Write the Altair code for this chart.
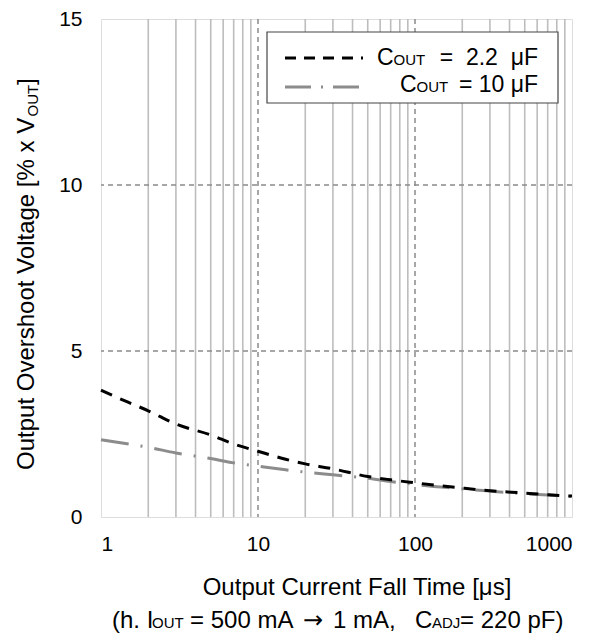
import altair as alt
import pandas as pd

# ---- data ----
fall_time = [1, 1.5, 2, 3, 5, 7, 10, 15, 20, 30, 50, 70, 100, 200, 300, 500, 700, 1000]
over_22uF = [3.82, 3.45, 3.20, 2.80, 2.47, 2.20, 1.98, 1.74, 1.60, 1.45, 1.22, 1.12, 1.03, 0.87, 0.79, 0.72, 0.67, 0.63]
over_10uF = [2.33, 2.20, 2.10, 1.93, 1.76, 1.63, 1.53, 1.42, 1.35, 1.27, 1.17, 1.07, 0.98, 0.85, 0.78, 0.70, 0.66, 0.62]
minor_x = [2, 3, 4, 5, 6, 7, 8, 9, 20, 30, 40, 50, 60, 70, 80, 90, 200, 300, 400, 500, 600, 700, 800, 900]
major_x = [10, 100]
major_y = [5, 10]
x_ticks = [1, 10, 100, 1000]
y_ticks = [0, 5, 10, 15]

FONT = "Liberation Sans"
W, H = 471, 498

xs = alt.Scale(type="log", domain=[1, 1000])
ys = alt.Scale(domain=[0, 15])
x_axis = alt.Axis(values=x_ticks, format="d", title=None, grid=False, ticks=False, domain=False,
                  labelFontSize=21, labelFont=FONT, labelColor="black", labelPadding=16)
y_axis = alt.Axis(values=y_ticks, title=None, grid=False, ticks=False, domain=False,
                  labelFontSize=21, labelFont=FONT, labelColor="black", labelPadding=19)

minor = alt.Chart(pd.DataFrame({"x": minor_x})).mark_rule(color="#bdbdbd", strokeWidth=1.6).encode(
    x=alt.X("x:Q", scale=xs, axis=x_axis))
majv = alt.Chart(pd.DataFrame({"x": major_x})).mark_rule(color="#8a8a8a", strokeWidth=1.5, strokeDash=[5, 4]).encode(
    x=alt.X("x:Q", scale=xs, axis=x_axis))
majh = alt.Chart(pd.DataFrame({"y": major_y})).mark_rule(color="#8a8a8a", strokeWidth=1.5, strokeDash=[5, 4]).encode(
    y=alt.Y("y:Q", scale=ys, axis=y_axis))

df = pd.DataFrame({"x": fall_time, "a": over_22uF, "b": over_10uF})
line_b = alt.Chart(df).mark_line(color="#8c8c8c", strokeWidth=3, strokeDash=[28, 12, 2, 12],
                                 interpolate="monotone").encode(
    x=alt.X("x:Q", scale=xs, axis=x_axis), y=alt.Y("b:Q", scale=ys, axis=y_axis))
line_a = alt.Chart(df).mark_line(color="black", strokeWidth=3, strokeDash=[12, 9],
                                 interpolate="monotone").encode(
    x=alt.X("x:Q", scale=xs, axis=x_axis), y=alt.Y("a:Q", scale=ys, axis=y_axis))

one = pd.DataFrame({"k": [0]})


def txt(s, x, y, size=24, align="left", angle=0, baseline="alphabetic", font=FONT):
    return alt.Chart(one).mark_text(text=s, align=align, baseline=baseline, angle=angle,
                                    font=font, fontSize=size, color="black").encode(
        x=alt.value(x), y=alt.value(y))


# legend box
legend_box = alt.Chart(one).mark_rect(fill="white", stroke="#444444", strokeWidth=1.2).encode(
    x=alt.value(166), x2=alt.value(457), y=alt.value(13), y2=alt.value(84))
leg_a = alt.Chart(one).mark_rule(color="black", strokeWidth=3, strokeDash=[11, 8]).encode(
    x=alt.value(184), x2=alt.value(262), y=alt.value(39))
leg_b = alt.Chart(one).mark_rule(color="#8c8c8c", strokeWidth=3, strokeDash=[26, 10, 2, 10]).encode(
    x=alt.value(184), x2=alt.value(258), y=alt.value(68))

NB = "\u00a0"
texts = [
    # legend
    txt("C", 276, 46, 23), txt("OUT", 292.5, 46, 15), txt("=" + NB * 2 + "2.2" + NB * 2 + "μF", 437, 46, 23, align="right"),
    txt("C", 299, 73, 23), txt("OUT", 315.5, 73, 15), txt("= 10 μF", 437, 73, 23, align="right"),
    # x title
    txt("Output Current Fall Time [μs]", 256, 576, 24, align="center"),
    txt("(h. I", 11, 609, 24), txt("OUT", 51, 609, 15),
    txt("= 500 mA", 89, 609, 24),
    txt("→", 202, 609, 24, font="DejaVu Sans"),
    txt("1 mA,", 232, 609, 24),
    txt("C", 314, 609, 24), txt("ADJ", 331, 609, 15), txt("= 220 pF)", 359, 609, 24),
    # y title (rotated)
    txt("Output Overshoot Voltage [% x V", -67, 451, 24, angle=270),
    txt("OUT", -63, 97.5, 15, angle=270),
    txt("]", -67, 66, 24, angle=270),
]

chart = alt.layer(minor, majv, majh, line_b, line_a, legend_box, leg_a, leg_b, *texts).properties(
    width=W, height=H,
    autosize=alt.AutoSizeParams(type="none"),
    padding={"left": 93, "top": 11, "right": 29, "bottom": 120},
).configure_view(stroke="black", strokeWidth=3).configure(background="white")

chart.save("out.html", embed_options={"renderer": "svg", "actions": False})
